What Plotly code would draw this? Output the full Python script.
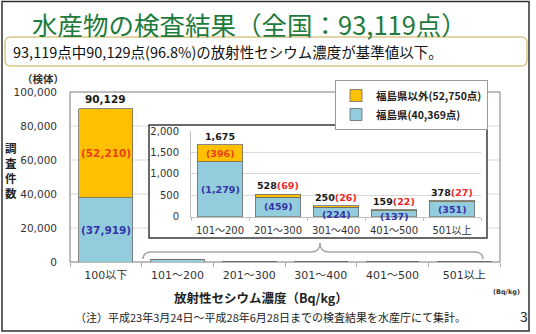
import plotly.graph_objects as go

# ---------------- data ----------------
categories = ["100以下", "101～200", "201～300", "301～400", "401～500", "501以上"]
fukushima = [37919, 1279, 459, 224, 137, 351]
outside = [52210, 396, 69, 26, 22, 27]
inset_categories = categories[1:]
inset_fukushima = fukushima[1:]
inset_outside = outside[1:]
legend_labels = ["福島県以外(52,750点)", "福島県(40,369点)"]
main_ticks = [0, 20000, 40000, 60000, 80000, 100000]
inset_ticks = [0, 500, 1000, 1500, 2000]

title_text = "水産物の検査結果（全国：93,119点）"
subtitle_text = "93,119点中90,129点(96.8%)の放射性セシウム濃度が基準値以下。"
xtitle_text = "放射性セシウム濃度（Bq/kg）"
ytitle_text = "調査件数"
unit_text = "（検体）"
unit2_text = "(Bq/kg)"
note_text = "（注）平成23年3月24日～平成28年6月28日までの検査結果を水産庁にて集計。"
page_no = "3"

totals = [a + b for a, b in zip(fukushima, outside)]
inset_totals = totals[1:]

# ---------------- style ----------------
W, H = 536, 334
L, R, T, B = 70, 500, 92, 262
ORANGE = "#FFC000"
BLUE = "#93CDDD"
RED = "#E8401C"
RED2 = "#F02828"
NAVY = "#3434A8"
GREEN = "#1E7B3C"
JP = "Noto Sans CJK JP"
NUM = "DejaVu Sans, Noto Sans CJK JP"
EDGE = "#6a6a6a"


def px(x):
    return (x - L) / (R - L)


def py(y):
    return (B - y) / (B - T)


def P(x, y):
    return f"{px(x):.5f},{py(y):.5f}"


fig = go.Figure()

# main chart
fig.add_trace(go.Bar(x=categories, y=fukushima, name=legend_labels[1],
                     marker=dict(color=BLUE, line=dict(color=EDGE, width=0.8)),
                     width=0.75, xaxis="x", yaxis="y", hoverinfo="skip"))
fig.add_trace(go.Bar(x=categories, y=outside, name=legend_labels[0],
                     marker=dict(color=ORANGE, line=dict(color=EDGE, width=0.8)),
                     width=0.75, xaxis="x", yaxis="y", hoverinfo="skip"))
# inset chart
fig.add_trace(go.Bar(x=inset_categories, y=inset_fukushima, showlegend=False,
                     marker=dict(color=BLUE, line=dict(color=EDGE, width=0.8)),
                     width=0.78, xaxis="x2", yaxis="y2", hoverinfo="skip"))
fig.add_trace(go.Bar(x=inset_categories, y=inset_outside, showlegend=False,
                     marker=dict(color=ORANGE, line=dict(color=EDGE, width=0.8)),
                     width=0.78, xaxis="x2", yaxis="y2", hoverinfo="skip"))

shapes = []
# outer frame
shapes.append(dict(type="rect", xref="paper", yref="paper", x0=px(2), x1=px(529),
                   y0=py(331), y1=py(1.5), line=dict(color="#303030", width=1.5),
                   fillcolor="rgba(0,0,0,0)", layer="below"))
# subtitle rounded box
x0, x1, y0, y1, r = 5, 527, 37, 66, 6
rr = (f"M {P(x0 + r, y0)} L {P(x1 - r, y0)} Q {P(x1, y0)} {P(x1, y0 + r)} "
      f"L {P(x1, y1 - r)} Q {P(x1, y1)} {P(x1 - r, y1)} L {P(x0 + r, y1)} "
      f"Q {P(x0, y1)} {P(x0, y1 - r)} L {P(x0, y0 + r)} Q {P(x0, y0)} {P(x0 + r, y0)} Z")
shapes.append(dict(type="path", xref="paper", yref="paper", path=rr,
                   line=dict(color="#DCC888", width=1.5), fillcolor="white", layer="below"))
# main gridlines (split around inset)
box_l, box_r, box_t, box_b = 149, 487, 125, 238
for v in main_ticks[1:-1]:
    shapes.append(dict(type="line", xref="paper", yref="y", x0=0, x1=px(box_l), y0=v, y1=v,
                       line=dict(color="#D9D9D9", width=1), layer="below"))
    shapes.append(dict(type="line", xref="paper", yref="y", x0=px(box_r), x1=1, y0=v, y1=v,
                       line=dict(color="#D9D9D9", width=1), layer="below"))
# main plot area border
shapes.append(dict(type="rect", xref="paper", yref="paper", x0=0, x1=1, y0=0, y1=1,
                   line=dict(color="#7a7a7a", width=1), fillcolor="rgba(0,0,0,0)", layer="below"))
# inset box
shapes.append(dict(type="rect", xref="paper", yref="paper", x0=px(box_l), x1=px(box_r),
                   y0=py(box_b), y1=py(box_t), line=dict(color="#3a3a3a", width=1.5),
                   fillcolor="white", layer="below"))
# brace
brace = (f"M {P(143, 259)} Q {P(143, 252)} {P(152, 252)} L {P(311, 252)} "
         f"Q {P(320, 252)} {P(320, 243)} Q {P(320, 252)} {P(329, 252)} "
         f"L {P(474, 252)} Q {P(483, 252)} {P(483, 259)}")
shapes.append(dict(type="path", xref="paper", yref="paper", path=brace,
                   line=dict(color="#A6A6A6", width=1.5), layer="below"))

ann = []
# main bar labels
ann.append(dict(x=categories[0], y=totals[0], xref="x", yref="y", text=f"<b>{totals[0]:,}</b>",
                showarrow=False, yanchor="bottom", yshift=2,
                font=dict(family=NUM, size=10.5, color="#1a1a1a")))
ann.append(dict(x=categories[0], y=fukushima[0] + outside[0] / 2, xref="x", yref="y",
                text=f"<b>({outside[0]:,})</b>", showarrow=False,
                font=dict(family=NUM, size=10.5, color=RED)))
ann.append(dict(x=categories[0], y=fukushima[0] / 2, xref="x", yref="y",
                text=f"<b>({fukushima[0]:,})</b>", showarrow=False,
                font=dict(family=NUM, size=10.5, color=NAVY)))
# inset labels
for i, c in enumerate(inset_categories):
    f, o, t = inset_fukushima[i], inset_outside[i], inset_totals[i]
    if o > 200:
        top = f"<b>{t:,}</b>"
        ann.append(dict(x=c, y=f + o / 2, xref="x2", yref="y2", text=f"<b>({o:,})</b>",
                        showarrow=False, font=dict(family=NUM, size=9.5, color=RED)))
    else:
        top = f"<b>{t:,}<span style='color:{RED2}'>({o:,})</span></b>"
    ann.append(dict(x=c, y=t, xref="x2", yref="y2", text=top, showarrow=False,
                    yanchor="bottom", yshift=1, font=dict(family=NUM, size=9.5, color="#1a1a1a")))
    ann.append(dict(x=c, y=f / 2, xref="x2", yref="y2", text=f"<b>({f:,})</b>", showarrow=False,
                    yshift=-3 if f < 300 else 0,
                    font=dict(family=NUM, size=9.5, color=NAVY)))

# texts
ann.append(dict(x=px(30), y=py(23), xref="paper", yref="paper", xanchor="left", yanchor="middle",
                text=title_text, showarrow=False, font=dict(family=JP, size=25.5, color=GREEN)))
ann.append(dict(x=px(11), y=py(52), xref="paper", yref="paper", xanchor="left", yanchor="middle",
                text=subtitle_text, showarrow=False, font=dict(family=JP, size=14.5, color="#111111")))
ann.append(dict(x=px(43), y=py(78), xref="paper", yref="paper", xanchor="center", yanchor="middle",
                text=f"<b>{unit_text}</b>", showarrow=False, font=dict(family=JP, size=10.5, color="#333333")))
ann.append(dict(x=px(11), y=py(170), xref="paper", yref="paper", xanchor="center", yanchor="middle",
                text="<b>" + "<br>".join(ytitle_text) + "</b>", showarrow=False,
                font=dict(family=JP, size=11.5, color="#222222")))
ann.append(dict(x=px(261), y=py(297), xref="paper", yref="paper", xanchor="center", yanchor="middle",
                text=f"<b>{xtitle_text}</b>", showarrow=False, font=dict(family=JP, size=12.5, color="#222222")))
ann.append(dict(x=px(506), y=py(292), xref="paper", yref="paper", xanchor="center", yanchor="middle",
                text=f"<b>{unit2_text}</b>", showarrow=False, font=dict(family=NUM, size=6.5, color="#333333")))
ann.append(dict(x=px(270), y=py(317), xref="paper", yref="paper", xanchor="center", yanchor="middle",
                text=note_text, showarrow=False, font=dict(family=JP, size=11, color="#222222")))
ann.append(dict(x=px(524), y=py(316), xref="paper", yref="paper", xanchor="center", yanchor="middle",
                text=page_no, showarrow=False, font=dict(family=JP, size=14, color="#222222")))

ix0, ix1, iy0, iy1 = 191, 481, 131, 216.7

fig.update_layout(
    template="none",
    width=W, height=H,
    margin=dict(l=L, r=W - R, t=T, b=H - B, pad=0),
    paper_bgcolor="white", plot_bgcolor="white",
    barmode="stack", bargap=0.25,
    showlegend=True,
    legend=dict(x=px(335), y=py(80), xanchor="left", yanchor="top", traceorder="reversed",
                bgcolor="white", bordercolor="#9a9a9a", borderwidth=1,
                font=dict(family=JP, size=10.5, color="#222222", weight="bold"),
                itemwidth=30, tracegroupgap=0),
    xaxis=dict(domain=[0, 1], type="category", categoryorder="array", categoryarray=categories,
               range=[-0.5, 5.5], showgrid=False, showline=False, zeroline=False,
               ticks="outside", tickson="boundaries", ticklen=4, tickcolor="#A6A6A6",
               ticklabelstandoff=5,
               tickfont=dict(family=NUM, size=11, color="#333333"), automargin=False, fixedrange=True),
    yaxis=dict(domain=[0, 1], range=[0, 100000], tickvals=main_ticks, tickformat=",",
               showgrid=False, showline=False, zeroline=False, ticks="",
               ticklabelstandoff=12,
               tickfont=dict(family=NUM, size=10.5, color="#333333"), automargin=False, fixedrange=True),
    xaxis2=dict(domain=[px(ix0), px(ix1)], anchor="y2", type="category", categoryorder="array",
                categoryarray=inset_categories, range=[-0.5, 4.5], showgrid=False,
                showline=True, linecolor="#BFBFBF", linewidth=1, zeroline=False,
                ticks="outside", tickson="boundaries", ticklen=3, tickcolor="#BFBFBF",
                ticklabelstandoff=4,
                tickfont=dict(family=NUM, size=10, color="#333333"), automargin=False, fixedrange=True),
    yaxis2=dict(domain=[py(iy1), py(iy0)], anchor="x2", range=[0, 2000], tickvals=inset_ticks,
                tickformat=",", showgrid=True, gridcolor="#D9D9D9", gridwidth=1,
                showline=True, linecolor="#BFBFBF", linewidth=1, zeroline=False, ticks="",
                ticklabelstandoff=9,
                tickfont=dict(family=NUM, size=10, color="#333333"), automargin=False, fixedrange=True),
    shapes=shapes,
    annotations=ann,
)

fig.write_html("out.html", config={"displayModeBar": False})
